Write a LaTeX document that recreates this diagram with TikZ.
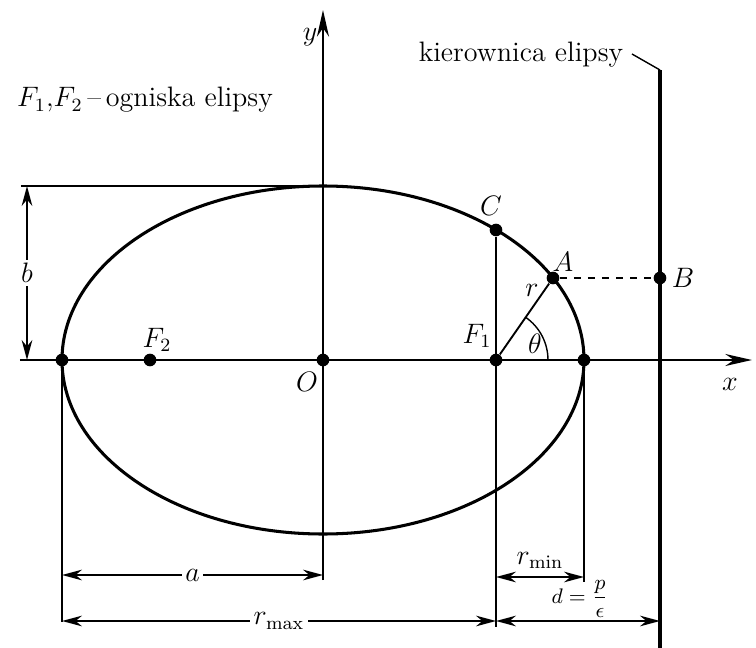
\documentclass[tikz,border=0pt]{standalone}
\usepackage{tikz}
\usetikzlibrary{arrows.meta, calc}
\tikzset{
  curve/.style    = {line width=1.3pt},
  axis/.style     = {line width=0.9pt, -{Stealth[length=4mm, width=1.8mm]}},
  guide/.style    = {line width=0.6pt},
  dimline/.style  = {line width=0.7pt, {Stealth[length=3mm, width=1.6mm]}-{Stealth[length=3mm, width=1.6mm]}},
  pointdot/.style = {circle, fill=black, inner sep=0pt, minimum size=1.9mm},
  gap/.style      = {fill=white, inner sep=1.5pt},
}

\begin{document}
\begin{tikzpicture}[x=0.015cm, y=0.015cm, every node/.style={font=\large}]
  \useasboundingbox (-323,-288) rectangle (433,360);

  % axes
  \coordinate (xs) at (-303,0);
  \coordinate (xe) at (429,0);
  \coordinate (ys) at (0,-220);
  \coordinate (ye) at (0,350);
  \draw[axis] (xs) -- (xe);
  \draw[axis] (ys) -- (ye);
  \node (xl) at (407,-24) {$x$};
  \node (yl) at (-13,323) {$y$};

  % ellipse
  \coordinate (O) at (0,0);
  \draw[curve] (O) ellipse [x radius=261, y radius=174];

  % points on the axis and on the curve
  \foreach \n/\x/\y in {L/-261/0, F2/-173/0, Oc/0/0, F1/173/0, R/261/0,
                        C/173/130, A/230/82, B/337/82} {
    \node[pointdot] (\n) at (\x,\y) {};
  }
  \node (lO)  at (-16,-22) {$O$};
  \node (lF2) at (-166,20) {$F_2$};
  \node (lF1) at (154,24)  {$F_1$};
  \node (lC)  at (168,154) {$C$};
  \node (lA)  at (240,98)  {$A$};
  \node (lB)  at (360,82)  {$B$};

  % radius and angle
  \draw[guide, line width=0.8pt] (F1) -- (A);
  \draw[guide, dashed, line width=0.8pt] (A) -- (B);
  \coordinate (th) at (225,0);
  \draw[guide] (th) arc[start angle=0, end angle=55, radius=52];
  \node (lr)  at (209,70) {$r$};
  \node (lth) at (212,16) {$\theta$};

  % directrix
  \coordinate (dtop) at (337,290);
  \coordinate (dbot) at (337,-288);
  \draw[line width=1.8pt] (dtop) -- (dbot);
  \node (kier) at (198,305) {kierownica elipsy};
  \coordinate (lead) at (309,306);
  \draw[guide] (lead) -- (dtop);
  \node (foci) at (-178,260) {$F_1$,$F_2$\,--\,ogniska elipsy};

  % b
  \coordinate (tl) at (-302,174);
  \coordinate (tt) at (0,174);
  \draw[guide, line width=0.9pt] (tl) -- (tt);
  \coordinate (b1) at (-296,0);
  \coordinate (b2) at (-296,174);
  \draw[dimline] (b1) -- node[gap] {$b$} (b2);

  % extension lines
  \coordinate (Lb) at (-261,-262);
  \coordinate (Cb) at (173,-267);
  \coordinate (Rb) at (261,-222);
  \draw[guide] (L) -- (Lb);
  \draw[guide] (C) -- (Cb);
  \draw[guide] (R) -- (Rb);

  % dimensions
  \coordinate (a1) at (-261,-215);
  \coordinate (a2) at (0,-215);
  \draw[dimline] (a1) -- node[gap] {$a$} (a2);
  \coordinate (rx1) at (-261,-261);
  \coordinate (rx2) at (173,-261);
  \draw[dimline] (rx1) -- node[gap] {$r_{\max}$} (rx2);
  \coordinate (rn1) at (173,-217);
  \coordinate (rn2) at (261,-217);
  \draw[dimline] (rn1) -- node[above] {$r_{\min}$} (rn2);
  \coordinate (d1) at (173,-261);
  \coordinate (d2) at (337,-261);
  \draw[dimline] (d1) -- (d2);
  \node[font=\small] (ld) at (257,-239) {$d=\displaystyle\frac{p}{\epsilon}$};
\end{tikzpicture}
\end{document}
